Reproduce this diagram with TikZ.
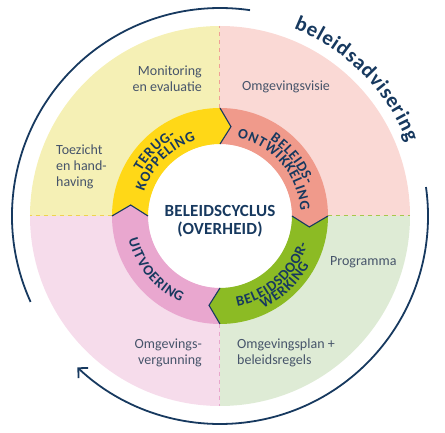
\documentclass[tikz,border=0pt]{standalone}
\usepackage{fontspec}
\setmainfont{Carlito}
\usetikzlibrary{arrows.meta,decorations.text}
\definecolor{navy}{HTML}{17395F}
\definecolor{labelgray}{HTML}{46546A}
\definecolor{quadyellow}{HTML}{F5F0B5}
\definecolor{quadsalmon}{HTML}{FAD9D5}
\definecolor{quadpink}{HTML}{F6DCEB}
\definecolor{quadgreen}{HTML}{DEEBD5}
\definecolor{ringyellow}{HTML}{FFD817}
\definecolor{ringsalmon}{HTML}{F09A8B}
\definecolor{ringpink}{HTML}{E9A7CF}
\definecolor{ringgreen}{HTML}{8CBB24}
\definecolor{dashsalmon}{HTML}{F0A096}
\definecolor{dashyellow}{HTML}{EFD34E}
\definecolor{dashgreen}{HTML}{A6C74A}
\definecolor{dashpink}{HTML}{E8A6CC}
\newcommand\ringfont{\bfseries\fontsize{14.5}{14.5}\selectfont}
\newcommand\arcfont{\bfseries\fontsize{21}{21}\selectfont}
\tikzset{
  ringtext/.style={decoration={text effects along path, text={#1}, text align=center,
      text effects/.cd, text along path,
      character widths={inner sep=0pt, inner xsep=0.4pt, font=\ringfont},
      characters={inner sep=0pt, inner xsep=0.4pt, font=\ringfont, text=navy}}, decorate},
  arctext/.style={decoration={text effects along path, text={#1}, text align=center,
      text effects/.cd, text along path,
      character widths={inner sep=0pt, inner xsep=0.4pt, font=\arcfont},
      characters={inner sep=0pt, inner xsep=0.4pt, font=\arcfont, text=navy}}, decorate},
  labeltext/.style={text=labelgray, font=\fontsize{14}{16}\selectfont, inner sep=0pt},
  divider/.style={line width=1pt, dash pattern=on 4pt off 4pt},
  chevron/.style={navy, line width=1.1pt}
}
\begin{document}
\begin{tikzpicture}[x=1pt, y=1pt]
    \useasboundingbox (-220, -217) rectangle (225, 216);
    \fill[quadyellow] (0, 0) -- (180:190) arc[start angle=180, end angle=90, radius=190] -- cycle;
    \fill[quadsalmon] (0, 0) -- (90:190) arc[start angle=90, end angle=0, radius=190] -- cycle;
    \fill[quadgreen] (0, 0) -- (0:190) arc[start angle=0, end angle=-90, radius=190] -- cycle;
    \fill[quadpink] (0, 0) -- (-90:190) arc[start angle=-90, end angle=-180, radius=190] -- cycle;
    \draw[divider, dashsalmon] (0, 108) -- (0, 190);
    \draw[divider, dashgreen] (108, 0) -- (190, 0);
    \draw[divider, dashpink] (0, -108) -- (0, -190);
    \draw[divider, dashyellow] (-108, 0) -- (-190, 0);
    \fill[white] (0, 0) circle(72);
    \fill[ringyellow] (180:108) arc[start angle=180, end angle=90, radius=108] -- (83:90) -- (90:72) arc[start angle=90, end angle=180, radius=72] -- (173:90) -- cycle;
    \fill[ringsalmon] (90:108) arc[start angle=90, end angle=0, radius=108] -- (-7:90) -- (0:72) arc[start angle=0, end angle=90, radius=72] -- (83:90) -- cycle;
    \fill[ringgreen] (0:108) arc[start angle=0, end angle=-90, radius=108] -- (-97:90) -- (-90:72) arc[start angle=-90, end angle=0, radius=72] -- (-7:90) -- cycle;
    \fill[ringpink] (-90:108) arc[start angle=-90, end angle=-180, radius=108] -- (-187:90) -- (-180:72) arc[start angle=-180, end angle=-90, radius=72] -- (-97:90) -- cycle;
    \draw[chevron] (90:108) -- (83:90) -- (90:72);
    \draw[chevron] (0:108) -- (-7:90) -- (0:72);
    \draw[chevron] (-90:108) -- (-97:90) -- (-90:72);
    \draw[chevron] (180:108) -- (173:90) -- (180:72);
    \path[ringtext={TERUG-}] (175:90.5) arc[start angle=175, end angle=95, radius=90.5];
    \path[ringtext={KOPPELING}] (185:79.5) arc[start angle=185, end angle=85, radius=79.5];
    \path[ringtext={BELEIDS-}] (78.4:91) arc[start angle=78.4, end angle=-1.6, radius=91];
    \path[ringtext={ONTWIKKELING}] (100.75:80.5) arc[start angle=100.75, end angle=-19.25, radius=80.5];
    \path[ringtext={BELEIDSDOOR-}] (-108.5:92) arc[start angle=-108.5, end angle=11.5, radius=92];
    \path[ringtext={WERKING}] (-97:102) arc[start angle=-97, end angle=3, radius=102];
    \path[ringtext={UITVOERING}] (170:94.5) arc[start angle=170, end angle=270, radius=94.5];
    \node[navy, font=\bfseries\fontsize{17}{18}\selectfont\addfontfeature{LetterSpace=1}, align=center] (centre) at (0, -5) {BELEIDSCYCLUS\\(OVERHEID)};
    \node[labeltext, anchor=east, align=right] (monitoring) at (-18, 137) {Monitoring\\en evaluatie};
    \node[labeltext, anchor=west] (visie) at (22, 129) {Omgevingsvisie};
    \node[labeltext, anchor=west, align=left] (toezicht) at (-164, 49) {Toezicht\\en hand-\\having};
    \node[labeltext, anchor=west] (programma) at (110, -46) {Programma};
    \node[labeltext, anchor=east, align=right] (vergunning) at (-18, -136.5) {Omgevings-\\vergunning};
    \node[labeltext, anchor=west, align=left] (plan) at (17, -136.5) {Omgevingsplan +\\beleidsregels};
    \draw[navy, line width=1.8pt] (204.4:208) arc[start angle=204.4, end angle=81.7, radius=208];
    \draw[navy, line width=1.8pt, -{Straight Barb[length=7pt, width=14pt]}] (8:208) arc[start angle=8, end angle=-133.3, radius=208];
    \path[arctext={beleidsadvisering}] (90:201) arc[start angle=90, end angle=0, radius=201];
\end{tikzpicture}
\end{document}
